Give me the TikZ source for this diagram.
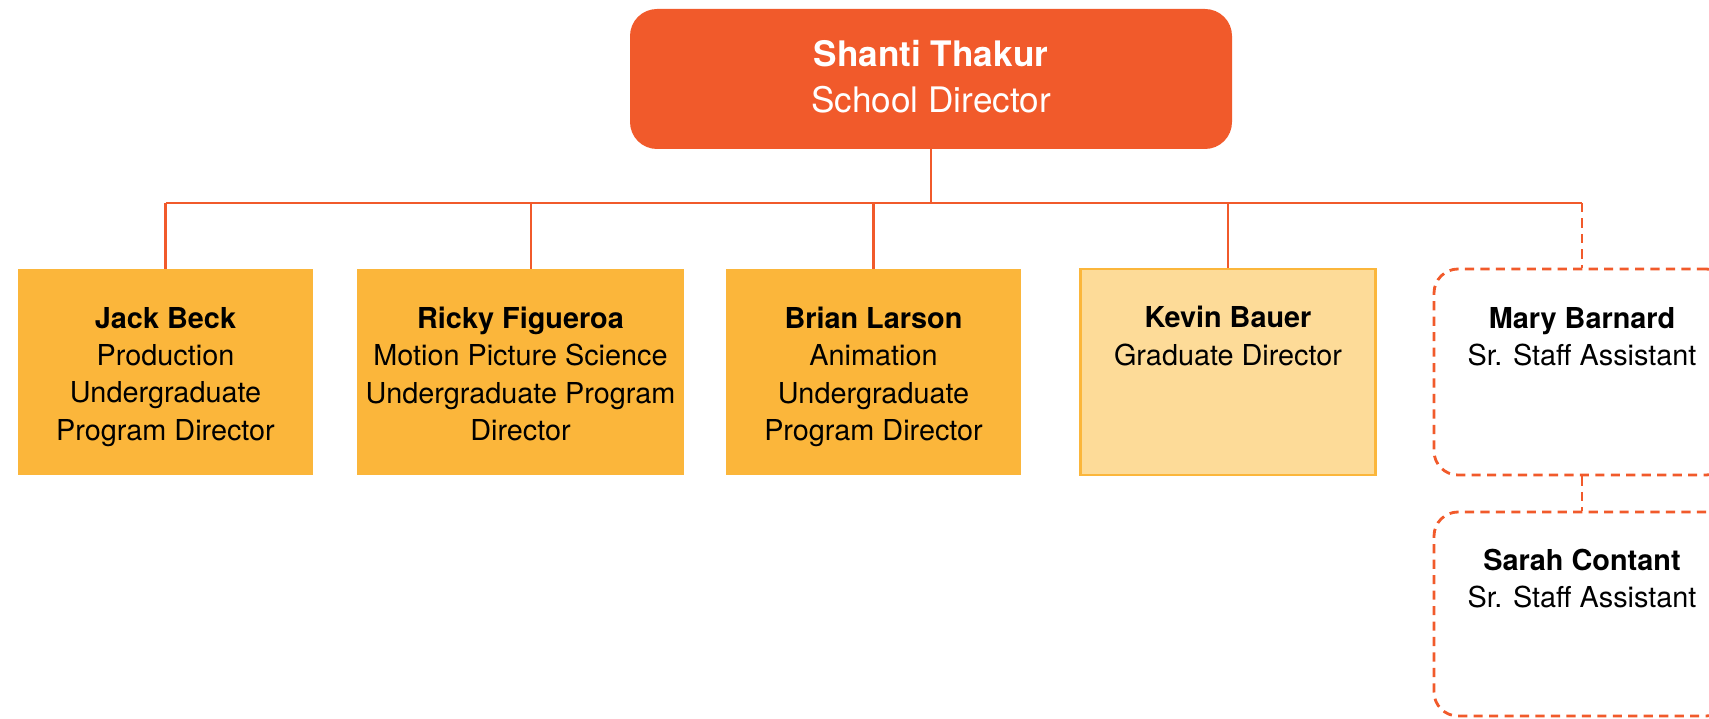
\documentclass[tikz,border=0pt]{standalone}
\usepackage{fontspec}
\setmainfont{TeX Gyre Heros}
\usetikzlibrary{positioning}

\definecolor{headorange}{HTML}{F15A2B}
\definecolor{boxgold}{HTML}{FBB63B}
\definecolor{boxpale}{HTML}{FDDB98}

\tikzset{
  head/.style={fill=headorange, rounded corners=0.54cm, minimum width=12.04cm,
    minimum height=2.8cm, inner sep=0pt},
  headtext/.style={anchor=north, align=center, inner sep=0pt, text=white,
    font=\fontsize{20}{26.1}\selectfont},
  card/.style={fill=boxgold, minimum width=5.9cm, minimum height=4.12cm, inner sep=0pt},
  palecard/.style={card, fill=boxpale, draw=boxgold, line width=1.2pt},
  staffcard/.style={draw=headorange, line width=1.6pt, dash pattern=on 5.2pt off 3.6pt,
    rounded corners=0.48cm, minimum width=5.92cm, minimum height=4.12cm, inner sep=0pt},
  cardtext/.style={anchor=north, align=center, inner sep=0pt,
    font=\fontsize{16.4}{21.3}\selectfont},
  link/.style={draw=headorange, line width=1.6pt},
  dlink/.style={link, dash pattern=on 5.2pt off 3.6pt}
}

\begin{document}
\begin{tikzpicture}
\useasboundingbox (0,0) rectangle (34.18,-14.38);
\clip (0,0) rectangle (34.18,-14.38);

% director
\node[head] (shanti) at (18.62,-1.58) {};
\node[headtext] (shantitxt) at ([yshift=-0.63cm]shanti.north)
  {\textbf{Shanti Thakur}\\School Director};

% program directors
\node[card] (jack) at (3.31,-7.44) {};
\node[card, minimum width=6.54cm] (ricky) at (10.41,-7.44) {};
\node[card] (brian) at (17.47,-7.44) {};
\node[palecard] (kevin) at (24.56,-7.44) {};

% staff
\node[staffcard] (mary) at (31.64,-7.44) {};
\node[staffcard, minimum height=4.08cm] (sarah) at (31.64,-12.28) {};

\node[cardtext] (jacktxt) at ([yshift=-0.76cm]jack.north)
  {\textbf{Jack Beck}\\Production\\Undergraduate\\Program Director};
\node[cardtext] (rickytxt) at ([yshift=-0.76cm]ricky.north)
  {\textbf{Ricky Figueroa}\\Motion Picture Science\\Undergraduate Program\\Director};
\node[cardtext] (briantxt) at ([yshift=-0.76cm]brian.north)
  {\textbf{Brian Larson}\\Animation\\Undergraduate\\Program Director};
\node[cardtext] (kevintxt) at ([yshift=-0.76cm]kevin.north)
  {\textbf{Kevin Bauer}\\Graduate Director};
\node[cardtext] (marytxt) at ([yshift=-0.79cm]mary.north)
  {\textbf{Mary Barnard}\\Sr. Staff Assistant};
\node[cardtext] (sarahtxt) at ([yshift=-0.76cm]sarah.north)
  {\textbf{Sarah Contant}\\Sr. Staff Assistant};

% connectors
\coordinate (bus) at (0,-4.06);
\coordinate (rickytop) at ([xshift=0.21cm]ricky.north);
\draw[link] (shanti.south) -- (shanti.south |- bus);
\draw[link] (jack.north |- bus) -- (mary.north |- bus);
\draw[link] (jack.north |- bus) -- (jack.north);
\draw[link] (rickytop |- bus) -- (rickytop);
\draw[link] (brian.north |- bus) -- (brian.north);
\draw[link] (kevin.north |- bus) -- (kevin.north);
\draw[dlink] (mary.north |- bus) -- (mary.north);
\draw[dlink] (mary.south) -- (sarah.north);
\end{tikzpicture}
\end{document}
